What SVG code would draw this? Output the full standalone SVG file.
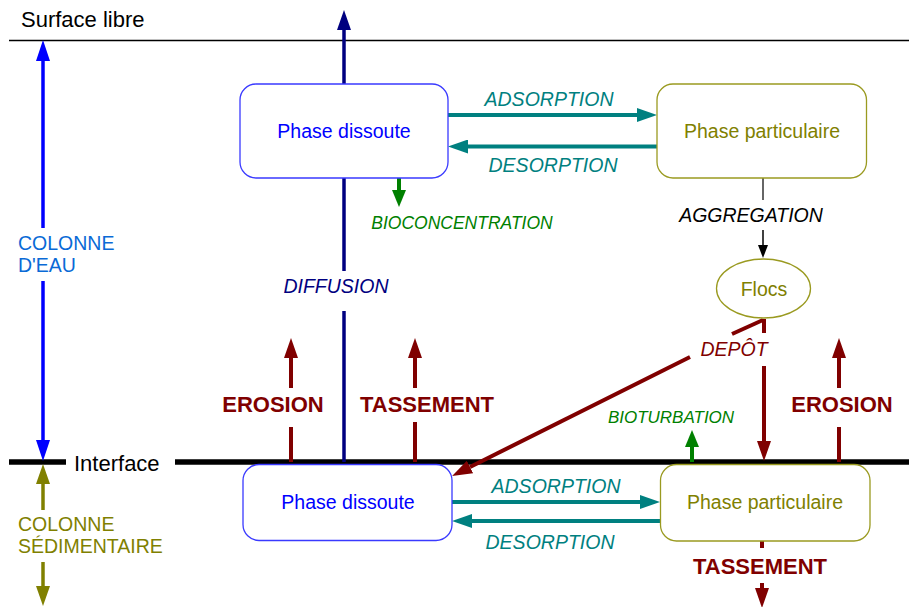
<svg xmlns="http://www.w3.org/2000/svg" width="909" height="607" viewBox="0 0 909 607">
<style>
text{font-family:"Liberation Sans",Arial,sans-serif}
.lbl{font-size:19.5px}
.it{font-style:italic}
.bold{font-weight:bold;font-size:22px;fill:#800000}
.big{font-size:22px;fill:#000}
.box{fill:#fff;stroke-width:1.3}
.bd{stroke:#3a3aff}
.bp{stroke:#9a9a20}
.teal{stroke:#008080;stroke-width:4;fill:none;marker-end:url(#mTeal)}
.red{stroke:#800000;stroke-width:4;fill:none}
.redA{marker-end:url(#mRed)}
.navy{stroke:#000080;stroke-width:3.5;fill:none}
.green{stroke:#008000;stroke-width:4;fill:none;marker-end:url(#mGreen)}
</style>
<defs>
<marker id="mTeal" markerUnits="userSpaceOnUse" markerWidth="20" markerHeight="14" refX="0" refY="7" orient="auto"><path d="M0,0L20,7L0,14z" fill="#008080"/></marker>
<marker id="mRed" markerUnits="userSpaceOnUse" markerWidth="20" markerHeight="14" refX="0" refY="7" orient="auto"><path d="M0,0L20,7L0,14z" fill="#800000"/></marker>
<marker id="mNavy" markerUnits="userSpaceOnUse" markerWidth="20" markerHeight="14" refX="0" refY="7" orient="auto"><path d="M0,0L20,7L0,14z" fill="#000080"/></marker>
<marker id="mBlue" markerUnits="userSpaceOnUse" markerWidth="21" markerHeight="14" refX="0" refY="7" orient="auto"><path d="M0,0L21,7L0,14z" fill="#0000ff"/></marker>
<marker id="mOlive" markerUnits="userSpaceOnUse" markerWidth="20" markerHeight="14" refX="0" refY="7" orient="auto"><path d="M0,0L20,7L0,14z" fill="#808000"/></marker>
<marker id="mGreen" markerUnits="userSpaceOnUse" markerWidth="17" markerHeight="14" refX="0" refY="7" orient="auto"><path d="M0,0L17,7L0,14z" fill="#008000"/></marker>
<marker id="mBlack" markerUnits="userSpaceOnUse" markerWidth="13" markerHeight="10" refX="0" refY="5" orient="auto"><path d="M0,0L13,5L0,10z" fill="#000"/></marker>
</defs>
<rect width="909" height="607" fill="#fff"/>

<g id="layers">
<line x1="9" y1="40.5" x2="909" y2="40.5" stroke="#000" stroke-width="1.5"/>
<text class="big" x="21" y="26.5">Surface libre</text>
<line x1="9" y1="462" x2="66" y2="462" stroke="#000" stroke-width="5.5"/>
<line x1="175" y1="462" x2="909" y2="462" stroke="#000" stroke-width="5.5"/>
<text class="big" x="74" y="470.5">Interface</text>
</g>

<g id="colonne-eau">
<line x1="43" y1="228" x2="43" y2="61" stroke="#0000ff" stroke-width="3.5" marker-end="url(#mBlue)"/>
<line x1="43" y1="281" x2="43" y2="440" stroke="#0000ff" stroke-width="3.5" marker-end="url(#mBlue)"/>
<text class="lbl" x="18" y="250" fill="#0a6ad6">COLONNE</text>
<text class="lbl" x="18" y="272" fill="#0a6ad6">D'EAU</text>
</g>

<g id="colonne-sed">
<line x1="43" y1="510" x2="43" y2="484" stroke="#808000" stroke-width="3.5" marker-end="url(#mOlive)"/>
<line x1="43" y1="562" x2="43" y2="586" stroke="#808000" stroke-width="3.5" marker-end="url(#mOlive)"/>
<text class="lbl" x="18" y="531" fill="#808000">COLONNE</text>
<text class="lbl" x="18" y="553" fill="#808000">SÉDIMENTAIRE</text>
</g>

<g id="connectors">
<!-- diffusion -->
<line class="navy" x1="344" y1="84" x2="344" y2="30" marker-end="url(#mNavy)"/>
<line class="navy" x1="344" y1="178" x2="344" y2="271"/>
<line class="navy" x1="344" y1="311" x2="344" y2="462"/>
<text class="lbl it" x="336" y="293" text-anchor="middle" fill="#000080">DIFFUSION</text>
<!-- top adsorption / desorption -->
<line class="teal" x1="448" y1="115" x2="637" y2="115"/>
<line class="teal" x1="657" y1="146.5" x2="468" y2="146.5"/>
<text class="lbl it" x="549" y="106" text-anchor="middle" fill="#008080">ADSORPTION</text>
<text class="lbl it" x="553" y="171.5" text-anchor="middle" fill="#008080">DESORPTION</text>
<!-- bioconcentration -->
<line class="green" x1="399" y1="178" x2="399" y2="190"/>
<text class="it" x="462" y="229" text-anchor="middle" font-size="17.5" fill="#008000">BIOCONCENTRATION</text>
<!-- aggregation -->
<line x1="763" y1="178" x2="763" y2="200" stroke="#666" stroke-width="2"/>
<line x1="763" y1="230" x2="763" y2="245" stroke="#000" stroke-width="1.5" marker-end="url(#mBlack)"/>
<text class="lbl it" x="751" y="221.5" text-anchor="middle" fill="#000">AGGREGATION</text>
<!-- depot -->
<line class="red" x1="764" y1="319" x2="764" y2="333"/>
<line class="red redA" x1="764" y1="366" x2="764" y2="441"/>
<line class="red" x1="763" y1="320" x2="732" y2="334"/>
<line class="red redA" x1="690" y1="357" x2="470" y2="467"/>
<text class="lbl it" x="734" y="356" text-anchor="middle" fill="#800000">DEPÔT</text>
<!-- erosion / tassement -->
<line class="red redA" x1="291" y1="388" x2="291" y2="358"/>
<line class="red" x1="291" y1="427" x2="291" y2="462"/>
<text class="bold" x="273" y="412" text-anchor="middle">EROSION</text>
<line class="red redA" x1="415" y1="388" x2="415" y2="358"/>
<line class="red" x1="415" y1="422" x2="415" y2="462"/>
<text class="bold" x="427" y="412" text-anchor="middle">TASSEMENT</text>
<line class="red redA" x1="839" y1="388" x2="839" y2="358"/>
<line class="red" x1="839" y1="427" x2="839" y2="462"/>
<text class="bold" x="842" y="412" text-anchor="middle">EROSION</text>
<line class="red" x1="762" y1="541" x2="762" y2="548"/>
<line class="red" x1="762" y1="583" x2="762" y2="588" marker-end="url(#mRed)"/>
<text class="bold" x="760" y="573.5" text-anchor="middle">TASSEMENT</text>
<!-- bioturbation -->
<line class="green" x1="692" y1="462" x2="692" y2="447"/>
<text class="it" x="671" y="422.5" text-anchor="middle" font-size="17" fill="#008000">BIOTURBATION</text>
<!-- bottom adsorption / desorption -->
<line class="teal" x1="452" y1="502" x2="640" y2="502"/>
<line class="teal" x1="660" y1="521" x2="472" y2="521"/>
<text class="lbl it" x="556" y="492.5" text-anchor="middle" fill="#008080">ADSORPTION</text>
<text class="lbl it" x="550" y="548.5" text-anchor="middle" fill="#008080">DESORPTION</text>
</g>

<g id="dissoute-eau">
<rect class="box bd" x="240" y="84" width="208" height="94" rx="16"/>
<text class="lbl" x="344" y="137.5" text-anchor="middle" fill="#0000ff">Phase dissoute</text>
</g>
<g id="particulaire-eau">
<rect class="box bp" x="657" y="84" width="209.5" height="94" rx="16"/>
<text class="lbl" x="762" y="137.5" text-anchor="middle" fill="#808000">Phase particulaire</text>
</g>
<g id="flocs">
<ellipse cx="763.5" cy="288.5" rx="47" ry="29.5" fill="#fff" stroke="#9a9a20" stroke-width="1.3"/>
<text class="lbl" x="764" y="296" text-anchor="middle" fill="#808000">Flocs</text>
</g>
<g id="dissoute-sed">
<rect class="box bd" x="243" y="464.5" width="209" height="76" rx="16"/>
<text class="lbl" x="348" y="508.5" text-anchor="middle" fill="#0000ff">Phase dissoute</text>
</g>
<g id="particulaire-sed">
<rect class="box bp" x="660.5" y="464.5" width="209.5" height="76.5" rx="16"/>
<text class="lbl" x="765" y="508.5" text-anchor="middle" fill="#808000">Phase particulaire</text>
</g>
</svg>
